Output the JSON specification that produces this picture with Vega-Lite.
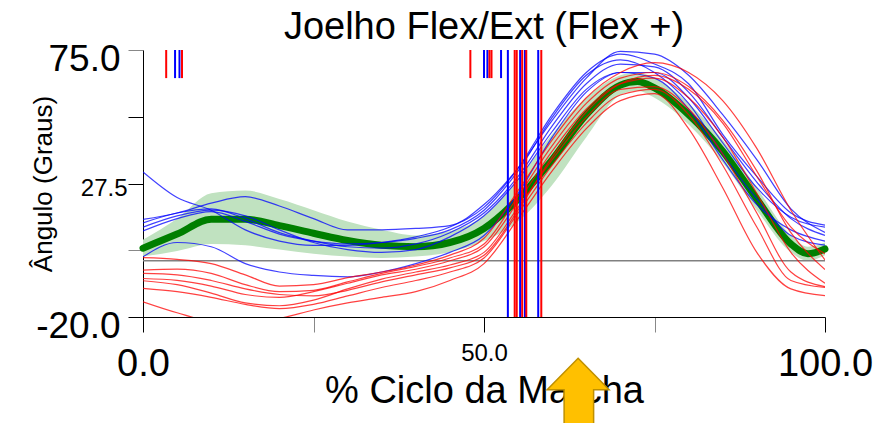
{
"$schema": "https://vega.github.io/schema/vega-lite/v6.json",
"width": 682, "height": 267,
"autosize": {"type": "none"},
"padding": {"left": 143, "top": 50, "right": 71, "bottom": 106},
"background": "white",
"title": {"text": "Joelho Flex/Ext (Flex +)", "font": "Liberation Sans", "fontSize": 38, "fontWeight": "normal", "color": "black", "anchor": "middle", "offset": -7},
"config": {"view": {"stroke": null}, "axis": {"labelFont": "Liberation Sans", "titleFont": "Liberation Sans", "grid": false, "labelColor": "black", "titleColor": "black"}},
"datasets": {
"mean": [
{"x":0,"m":4.5,"lo":1.5,"hi":7.5},{"x":5,"m":9.5,"lo":3.5,"hi":15},{"x":10,"m":14.8,"lo":6,"hi":24},{"x":15,"m":14.8,"lo":5.5,"hi":25},{"x":20,"m":12.5,"lo":4,"hi":22},{"x":25,"m":9.8,"lo":2.5,"hi":18},{"x":30,"m":7.2,"lo":1.5,"hi":14},{"x":35,"m":5.5,"lo":1,"hi":11},{"x":40,"m":5,"lo":1.5,"hi":9},{"x":45,"m":6.5,"lo":3,"hi":10.5},{"x":50,"m":11.5,"lo":7,"hi":16},{"x":55,"m":22,"lo":14,"hi":29},{"x":60,"m":36,"lo":27,"hi":45},{"x":65,"m":52,"lo":44,"hi":58},{"x":70,"m":62.5,"lo":59,"hi":66},{"x":72.5,"m":63.8,"lo":60.5,"hi":67},{"x":75,"m":61.5,"lo":58,"hi":65},{"x":80,"m":52,"lo":48.5,"hi":56},{"x":85,"m":39,"lo":35,"hi":43},{"x":90,"m":22,"lo":18,"hi":26},{"x":95,"m":6,"lo":3,"hi":9},{"x":97.5,"m":2.5,"lo":0,"hi":5},{"x":100,"m":4.2,"lo":2,"hi":6.5}
],
"curves": [
{"s":"B1","g":"b","x":0,"y":31.6},{"s":"B1","g":"b","x":5,"y":22.5},{"s":"B1","g":"b","x":10,"y":18},{"s":"B1","g":"b","x":15,"y":11},{"s":"B1","g":"b","x":20,"y":7},{"s":"B1","g":"b","x":25,"y":5.5},{"s":"B1","g":"b","x":30,"y":5.5},{"s":"B1","g":"b","x":35,"y":6.5},{"s":"B1","g":"b","x":40,"y":8.5},{"s":"B1","g":"b","x":45,"y":12},{"s":"B1","g":"b","x":50,"y":19},{"s":"B1","g":"b","x":55,"y":33},{"s":"B1","g":"b","x":60,"y":52},{"s":"B1","g":"b","x":65,"y":67},{"s":"B1","g":"b","x":70,"y":73.5},{"s":"B1","g":"b","x":75,"y":70},{"s":"B1","g":"b","x":80,"y":63},{"s":"B1","g":"b","x":85,"y":45},{"s":"B1","g":"b","x":90,"y":30},{"s":"B1","g":"b","x":95,"y":17},{"s":"B1","g":"b","x":100,"y":12.7},
{"s":"B2","g":"b","x":0,"y":14.7},{"s":"B2","g":"b","x":5,"y":17},{"s":"B2","g":"b","x":10,"y":20.5},{"s":"B2","g":"b","x":15,"y":22.8},{"s":"B2","g":"b","x":20,"y":19.5},{"s":"B2","g":"b","x":25,"y":15},{"s":"B2","g":"b","x":30,"y":11},{"s":"B2","g":"b","x":35,"y":11},{"s":"B2","g":"b","x":40,"y":11.5},{"s":"B2","g":"b","x":45,"y":12.5},{"s":"B2","g":"b","x":50,"y":20},{"s":"B2","g":"b","x":55,"y":33},{"s":"B2","g":"b","x":60,"y":50},{"s":"B2","g":"b","x":65,"y":65},{"s":"B2","g":"b","x":70,"y":74.5},{"s":"B2","g":"b","x":75,"y":73.5},{"s":"B2","g":"b","x":80,"y":66},{"s":"B2","g":"b","x":85,"y":52},{"s":"B2","g":"b","x":90,"y":36},{"s":"B2","g":"b","x":95,"y":18.5},{"s":"B2","g":"b","x":100,"y":10.1},
{"s":"B3","g":"b","x":0,"y":13.5},{"s":"B3","g":"b","x":5,"y":17},{"s":"B3","g":"b","x":10,"y":18.5},{"s":"B3","g":"b","x":15,"y":15},{"s":"B3","g":"b","x":20,"y":10},{"s":"B3","g":"b","x":25,"y":7},{"s":"B3","g":"b","x":30,"y":5},{"s":"B3","g":"b","x":35,"y":4.5},{"s":"B3","g":"b","x":40,"y":6},{"s":"B3","g":"b","x":45,"y":10},{"s":"B3","g":"b","x":50,"y":17},{"s":"B3","g":"b","x":55,"y":30},{"s":"B3","g":"b","x":60,"y":48},{"s":"B3","g":"b","x":65,"y":63},{"s":"B3","g":"b","x":70,"y":70},{"s":"B3","g":"b","x":75,"y":69},{"s":"B3","g":"b","x":80,"y":60},{"s":"B3","g":"b","x":85,"y":44},{"s":"B3","g":"b","x":90,"y":28},{"s":"B3","g":"b","x":95,"y":15},{"s":"B3","g":"b","x":100,"y":9},
{"s":"B4","g":"b","x":0,"y":10.6},{"s":"B4","g":"b","x":5,"y":15},{"s":"B4","g":"b","x":10,"y":17.5},{"s":"B4","g":"b","x":15,"y":14},{"s":"B4","g":"b","x":20,"y":9.5},{"s":"B4","g":"b","x":25,"y":7},{"s":"B4","g":"b","x":30,"y":6},{"s":"B4","g":"b","x":35,"y":6.5},{"s":"B4","g":"b","x":40,"y":8},{"s":"B4","g":"b","x":45,"y":11},{"s":"B4","g":"b","x":50,"y":18},{"s":"B4","g":"b","x":55,"y":32},{"s":"B4","g":"b","x":60,"y":51},{"s":"B4","g":"b","x":65,"y":66},{"s":"B4","g":"b","x":70,"y":71.5},{"s":"B4","g":"b","x":75,"y":67},{"s":"B4","g":"b","x":80,"y":56},{"s":"B4","g":"b","x":85,"y":38},{"s":"B4","g":"b","x":90,"y":22},{"s":"B4","g":"b","x":95,"y":9},{"s":"B4","g":"b","x":100,"y":5.6},
{"s":"B5","g":"b","x":0,"y":1.4},{"s":"B5","g":"b","x":5,"y":6.5},{"s":"B5","g":"b","x":10,"y":5},{"s":"B5","g":"b","x":15,"y":-1},{"s":"B5","g":"b","x":20,"y":-4},{"s":"B5","g":"b","x":25,"y":-5.2},{"s":"B5","g":"b","x":30,"y":-5.7},{"s":"B5","g":"b","x":35,"y":-4},{"s":"B5","g":"b","x":40,"y":-1},{"s":"B5","g":"b","x":45,"y":3},{"s":"B5","g":"b","x":50,"y":9},{"s":"B5","g":"b","x":55,"y":24},{"s":"B5","g":"b","x":60,"y":44},{"s":"B5","g":"b","x":65,"y":60},{"s":"B5","g":"b","x":70,"y":67},{"s":"B5","g":"b","x":75,"y":67},{"s":"B5","g":"b","x":80,"y":58},{"s":"B5","g":"b","x":85,"y":42},{"s":"B5","g":"b","x":90,"y":26},{"s":"B5","g":"b","x":95,"y":15.5},{"s":"B5","g":"b","x":100,"y":12},
{"s":"B6","g":"b","x":0,"y":12},{"s":"B6","g":"b","x":5,"y":16},{"s":"B6","g":"b","x":10,"y":18},{"s":"B6","g":"b","x":15,"y":16},{"s":"B6","g":"b","x":20,"y":11},{"s":"B6","g":"b","x":25,"y":6.5},{"s":"B6","g":"b","x":30,"y":4},{"s":"B6","g":"b","x":35,"y":3},{"s":"B6","g":"b","x":40,"y":4},{"s":"B6","g":"b","x":45,"y":8.5},{"s":"B6","g":"b","x":50,"y":16},{"s":"B6","g":"b","x":55,"y":29},{"s":"B6","g":"b","x":60,"y":46},{"s":"B6","g":"b","x":65,"y":61},{"s":"B6","g":"b","x":70,"y":67},{"s":"B6","g":"b","x":75,"y":65},{"s":"B6","g":"b","x":80,"y":54},{"s":"B6","g":"b","x":85,"y":36},{"s":"B6","g":"b","x":90,"y":20},{"s":"B6","g":"b","x":95,"y":11},{"s":"B6","g":"b","x":100,"y":7},
{"s":"R1","g":"r","x":0,"y":1.1},{"s":"R1","g":"r","x":5,"y":0.5},{"s":"R1","g":"r","x":10,"y":-1},{"s":"R1","g":"r","x":15,"y":-5},{"s":"R1","g":"r","x":20,"y":-9},{"s":"R1","g":"r","x":25,"y":-8.5},{"s":"R1","g":"r","x":30,"y":-6},{"s":"R1","g":"r","x":35,"y":-4},{"s":"R1","g":"r","x":40,"y":-1.5},{"s":"R1","g":"r","x":45,"y":2},{"s":"R1","g":"r","x":50,"y":8},{"s":"R1","g":"r","x":55,"y":25},{"s":"R1","g":"r","x":60,"y":43},{"s":"R1","g":"r","x":65,"y":58},{"s":"R1","g":"r","x":70,"y":67},{"s":"R1","g":"r","x":75,"y":70.5},{"s":"R1","g":"r","x":80,"y":67},{"s":"R1","g":"r","x":85,"y":57},{"s":"R1","g":"r","x":90,"y":40},{"s":"R1","g":"r","x":95,"y":18},{"s":"R1","g":"r","x":100,"y":0.3},
{"s":"R2","g":"r","x":0,"y":-3.3},{"s":"R2","g":"r","x":5,"y":-3},{"s":"R2","g":"r","x":10,"y":-4.5},{"s":"R2","g":"r","x":15,"y":-8.5},{"s":"R2","g":"r","x":20,"y":-11},{"s":"R2","g":"r","x":25,"y":-10.5},{"s":"R2","g":"r","x":30,"y":-7.5},{"s":"R2","g":"r","x":35,"y":-4.5},{"s":"R2","g":"r","x":40,"y":-2},{"s":"R2","g":"r","x":45,"y":1},{"s":"R2","g":"r","x":50,"y":6},{"s":"R2","g":"r","x":55,"y":23},{"s":"R2","g":"r","x":60,"y":41},{"s":"R2","g":"r","x":65,"y":56},{"s":"R2","g":"r","x":70,"y":65},{"s":"R2","g":"r","x":75,"y":67},{"s":"R2","g":"r","x":80,"y":62},{"s":"R2","g":"r","x":85,"y":50},{"s":"R2","g":"r","x":90,"y":32},{"s":"R2","g":"r","x":95,"y":10},{"s":"R2","g":"r","x":100,"y":-3.1},
{"s":"R3","g":"r","x":0,"y":-6.3},{"s":"R3","g":"r","x":5,"y":-7},{"s":"R3","g":"r","x":10,"y":-9},{"s":"R3","g":"r","x":15,"y":-12},{"s":"R3","g":"r","x":20,"y":-13},{"s":"R3","g":"r","x":25,"y":-11},{"s":"R3","g":"r","x":30,"y":-8},{"s":"R3","g":"r","x":35,"y":-5},{"s":"R3","g":"r","x":40,"y":-3},{"s":"R3","g":"r","x":45,"y":0},{"s":"R3","g":"r","x":50,"y":5},{"s":"R3","g":"r","x":55,"y":21},{"s":"R3","g":"r","x":60,"y":39},{"s":"R3","g":"r","x":65,"y":54},{"s":"R3","g":"r","x":70,"y":63},{"s":"R3","g":"r","x":75,"y":65},{"s":"R3","g":"r","x":80,"y":58},{"s":"R3","g":"r","x":85,"y":44},{"s":"R3","g":"r","x":90,"y":24},{"s":"R3","g":"r","x":95,"y":3},{"s":"R3","g":"r","x":100,"y":-8},
{"s":"R4","g":"r","x":0,"y":-7.1},{"s":"R4","g":"r","x":5,"y":-8.5},{"s":"R4","g":"r","x":10,"y":-11.5},{"s":"R4","g":"r","x":15,"y":-15},{"s":"R4","g":"r","x":20,"y":-16},{"s":"R4","g":"r","x":25,"y":-14},{"s":"R4","g":"r","x":30,"y":-10},{"s":"R4","g":"r","x":35,"y":-6.5},{"s":"R4","g":"r","x":40,"y":-4},{"s":"R4","g":"r","x":45,"y":-1.5},{"s":"R4","g":"r","x":50,"y":3},{"s":"R4","g":"r","x":55,"y":19},{"s":"R4","g":"r","x":60,"y":36},{"s":"R4","g":"r","x":65,"y":51},{"s":"R4","g":"r","x":70,"y":61},{"s":"R4","g":"r","x":75,"y":62},{"s":"R4","g":"r","x":80,"y":54},{"s":"R4","g":"r","x":85,"y":38},{"s":"R4","g":"r","x":90,"y":17},{"s":"R4","g":"r","x":95,"y":-4},{"s":"R4","g":"r","x":100,"y":-9.2},
{"s":"R5","g":"r","x":0,"y":-9.8},{"s":"R5","g":"r","x":5,"y":-11},{"s":"R5","g":"r","x":10,"y":-13},{"s":"R5","g":"r","x":15,"y":-15.5},{"s":"R5","g":"r","x":20,"y":-17},{"s":"R5","g":"r","x":25,"y":-15.5},{"s":"R5","g":"r","x":30,"y":-12.5},{"s":"R5","g":"r","x":35,"y":-9.5},{"s":"R5","g":"r","x":40,"y":-7},{"s":"R5","g":"r","x":45,"y":-4},{"s":"R5","g":"r","x":50,"y":1},{"s":"R5","g":"r","x":55,"y":17},{"s":"R5","g":"r","x":60,"y":34},{"s":"R5","g":"r","x":65,"y":49},{"s":"R5","g":"r","x":70,"y":59},{"s":"R5","g":"r","x":75,"y":61},{"s":"R5","g":"r","x":80,"y":52},{"s":"R5","g":"r","x":85,"y":34},{"s":"R5","g":"r","x":90,"y":12},{"s":"R5","g":"r","x":95,"y":-7},{"s":"R5","g":"r","x":100,"y":-9.5},
{"s":"R6","g":"r","x":0,"y":-14.6},{"s":"R6","g":"r","x":5,"y":-18.5},{"s":"R6","g":"r","x":10,"y":-21.5},{"s":"R6","g":"r","x":15,"y":-22},{"s":"R6","g":"r","x":20,"y":-20.5},{"s":"R6","g":"r","x":25,"y":-17.5},{"s":"R6","g":"r","x":30,"y":-15},{"s":"R6","g":"r","x":35,"y":-13},{"s":"R6","g":"r","x":40,"y":-11},{"s":"R6","g":"r","x":45,"y":-7},{"s":"R6","g":"r","x":50,"y":-1},{"s":"R6","g":"r","x":55,"y":15},{"s":"R6","g":"r","x":60,"y":32},{"s":"R6","g":"r","x":65,"y":47},{"s":"R6","g":"r","x":70,"y":57},{"s":"R6","g":"r","x":75,"y":59.5},{"s":"R6","g":"r","x":80,"y":47},{"s":"R6","g":"r","x":85,"y":26},{"s":"R6","g":"r","x":90,"y":3},{"s":"R6","g":"r","x":95,"y":-10},{"s":"R6","g":"r","x":100,"y":-12.4},
{"s":"R7","g":"r","x":0,"y":-4.5},{"s":"R7","g":"r","x":5,"y":-5},{"s":"R7","g":"r","x":10,"y":-7},{"s":"R7","g":"r","x":15,"y":-10},{"s":"R7","g":"r","x":20,"y":-12},{"s":"R7","g":"r","x":25,"y":-12.5},{"s":"R7","g":"r","x":30,"y":-10.5},{"s":"R7","g":"r","x":35,"y":-7.5},{"s":"R7","g":"r","x":40,"y":-5},{"s":"R7","g":"r","x":45,"y":-2.5},{"s":"R7","g":"r","x":50,"y":2},{"s":"R7","g":"r","x":55,"y":18},{"s":"R7","g":"r","x":60,"y":37},{"s":"R7","g":"r","x":65,"y":53},{"s":"R7","g":"r","x":70,"y":63},{"s":"R7","g":"r","x":75,"y":66},{"s":"R7","g":"r","x":80,"y":61},{"s":"R7","g":"r","x":85,"y":49},{"s":"R7","g":"r","x":90,"y":30},{"s":"R7","g":"r","x":95,"y":12},{"s":"R7","g":"r","x":100,"y":2.5}
],
"events": [
{"x":3.4,"g":"r","t":"short"},{"x":4.7,"g":"b","t":"short"},{"x":5.35,"g":"b","t":"short"},{"x":5.72,"g":"r","t":"short"},
{"x":48.0,"g":"r","t":"short"},{"x":50.0,"g":"b","t":"short"},{"x":50.5,"g":"b","t":"short"},{"x":50.8,"g":"r","t":"short"},{"x":51.1,"g":"r","t":"short"},{"x":52.5,"g":"b","t":"short"},
{"x":53.5,"g":"b","t":"long"},{"x":54.5,"g":"r","t":"long"},{"x":54.8,"g":"r","t":"long"},{"x":55.3,"g":"b","t":"long"},{"x":55.6,"g":"r","t":"long"},{"x":56.0,"g":"b","t":"long"},{"x":56.2,"g":"r","t":"long"},{"x":57.95,"g":"b","t":"long"},{"x":58.4,"g":"r","t":"long"}
]
},
"layer": [
{
"data": {"name": "mean"},
"mark": {"type": "area", "interpolate": "monotone", "color": "#c0e2c0", "opacity": 1},
"encoding": {
"x": {"field": "x", "type": "quantitative", "scale": {"domain": [0, 100], "nice": false, "zero": false},
"axis": {"values": [0, 25, 50, 75, 100], "labelExpr": "datum.value == 25 || datum.value == 75 ? '' : format(datum.value, '.1f')",
"labelFontSize": {"condition": {"test": "datum.value == 50", "value": 24}, "value": 38},
"labelPadding": {"condition": {"test": "datum.value == 50", "value": 28}, "value": 43},
"labelBaseline": "alphabetic", "labelFlush": false, "labelOverlap": false, "labelBound": false,
"tickSize": 15, "tickWidth": 1, "tickColor": {"condition": {"test": "datum.value == 25 || datum.value == 75", "value": "#888888"}, "value": "black"},
"domainColor": "black", "domainWidth": 1,
"title": "% Ciclo da Marcha", "titleFontSize": 38, "titleFontWeight": "normal", "titleX": 341, "titleY": 85, "titleBaseline": "alphabetic", "titleAlign": "center"}},
"y": {"field": "lo", "type": "quantitative", "scale": {"domain": [-20, 75], "nice": false, "zero": false},
"axis": {"values": [-20, 3.75, 27.5, 51.25, 75], "labelExpr": "datum.value == 75 ? '75.0' : datum.value == 27.5 ? '27.5' : datum.value == -20 ? '-20.0' : ''",
"labelFontSize": {"condition": {"test": "datum.value == 27.5", "value": 24}, "value": 37},
"labelPadding": {"condition": {"test": "datum.value == 27.5", "value": 1}, "value": 8},
"labelOffset": {"condition": {"test": "datum.value == 27.5", "value": 12}, "value": 20},
"labelBaseline": "alphabetic", "labelFlush": false, "labelOverlap": false, "labelBound": false,
"tickSize": 15, "tickWidth": 1, "tickColor": {"condition": {"test": "datum.value == 75 || datum.value == 3.75", "value": "#888888"}, "value": "black"},
"domainColor": "black", "domainWidth": 1,
"title": "Ângulo (Graus)", "titleFontSize": 26, "titleFontWeight": "normal", "titleX": -92, "titleY": 133.5, "titleAngle": -90, "titleBaseline": "alphabetic", "titleAlign": "center"}},
"y2": {"field": "hi"}
}
},
{
"data": {"values": [{"v": 0}]},
"mark": {"type": "rule", "color": "#808080", "strokeWidth": 1.5},
"encoding": {"y": {"field": "v", "type": "quantitative"}, "x": {"datum": 0}, "x2": {"datum": 100}}
},
{
"data": {"name": "mean"},
"mark": {"type": "line", "interpolate": "monotone", "color": "#007f00", "strokeWidth": 7, "strokeCap": "round"},
"encoding": {"x": {"field": "x", "type": "quantitative"}, "y": {"field": "m", "type": "quantitative"}}
},
{
"data": {"name": "curves"},
"mark": {"type": "line", "interpolate": "monotone", "strokeWidth": 1.2, "opacity": 0.75, "clip": true},
"encoding": {
"x": {"field": "x", "type": "quantitative"},
"y": {"field": "y", "type": "quantitative"},
"detail": {"field": "s"},
"color": {"field": "g", "type": "nominal", "scale": {"domain": ["b", "r"], "range": ["#0000ff", "#ff0000"]}, "legend": null}
}
},
{
"data": {"name": "events"},
"transform": [{"filter": "datum.t == 'long'"}],
"mark": {"type": "rule", "strokeWidth": 2},
"encoding": {
"x": {"field": "x", "type": "quantitative"},
"y": {"datum": 75}, "y2": {"datum": -20},
"color": {"field": "g", "type": "nominal", "legend": null}
}
},
{
"data": {"name": "events"},
"transform": [{"filter": "datum.t == 'short'"}],
"mark": {"type": "rule", "strokeWidth": 2},
"encoding": {
"x": {"field": "x", "type": "quantitative"},
"y": {"datum": 75}, "y2": {"datum": 65},
"color": {"field": "g", "type": "nominal", "legend": null}
}
},
{
"data": {"values": [{"x": 63.8, "y": -34.7}]},
"mark": {"type": "point", "shape": "M0,0L0.775,0.7875L0.3875,0.7875L0.3875,1.8L-0.35,1.8L-0.35,0.7875L-0.775,0.7875Z", "size": 6400, "filled": true, "fill": "#FFC000", "stroke": "#BF9000", "strokeWidth": 1.5, "opacity": 1, "clip": false},
"encoding": {"x": {"field": "x", "type": "quantitative"}, "y": {"field": "y", "type": "quantitative"}}
}
]
}
